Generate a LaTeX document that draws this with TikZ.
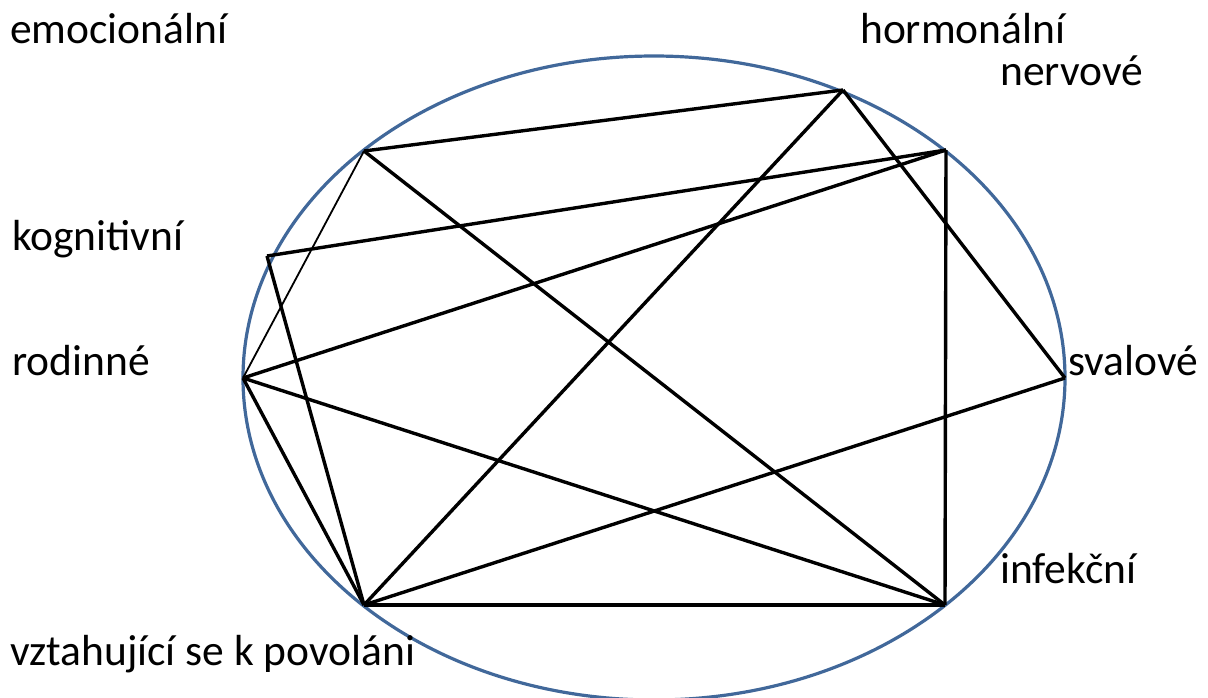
\documentclass[tikz,border=0pt]{standalone}
\usepackage{fontspec}
\setmainfont{Carlito}
\begin{document}
\begin{tikzpicture}[x=1pt,y=-1pt,
  lbl/.style={anchor=base west,inner sep=0pt,font=\fontsize{43.5}{48}\selectfont},
  edge/.style={line width=3.4pt,black},
  thinedge/.style={line width=1.8pt,black},
  ring/.style={line width=3.2pt,draw={rgb,255:red,65;green,104;blue,154}}]
\useasboundingbox (0,0) rectangle (1208,697);
\draw[ring] (654,378) ellipse [x radius=411, y radius=322];
\coordinate (A) at (364,151);
\coordinate (H) at (843,90);
\coordinate (N) at (946,150);
\coordinate (K) at (267,256);
\coordinate (R) at (243,378);
\coordinate (S) at (1065,378);
\coordinate (V) at (364,605);
\coordinate (I) at (945,605);
\draw[edge] (A) -- (H);
\draw[edge] (A) -- (I);
\draw[thinedge] (A) -- (R);
\draw[edge] (H) -- (V);
\draw[edge] (H) -- (S);
\draw[edge] (N) -- (K);
\draw[edge] (N) -- (R);
\draw[edge] (N) -- (I);
\draw[edge] (K) -- (V);
\draw[edge] (R) -- (V);
\draw[edge] (R) -- (I);
\draw[edge] (V) -- (S);
\draw[edge] (V) -- (I);
\node[lbl] (emo) at (10,43) {emocionální};
\node[lbl] (hor) at (860,43) {hormonální};
\node[lbl] (ner) at (1000,85) {nervové};
\node[lbl] (kog) at (12,250) {kognitivní};
\node[lbl] (rod) at (12,375) {rodinné};
\node[lbl] (sva) at (1068,375) {svalové};
\node[lbl] (inf) at (1000,583) {infekční};
\node[lbl] (vzt) at (10,665) {vztahující se k povoláni};
\end{tikzpicture}
\end{document}
